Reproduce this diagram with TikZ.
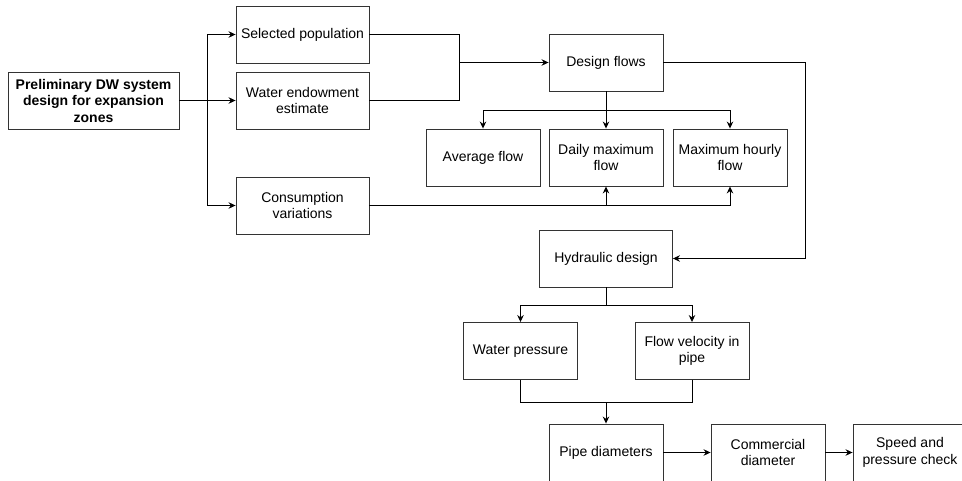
\documentclass[tikz,border=0pt]{standalone}
\usepackage{fontspec}
\setmainfont{Liberation Sans}
\usepackage{tikz}
\usetikzlibrary{arrows.meta}
\tikzstyle{stage}=[rectangle, draw=black!80, line width=0.9pt, minimum width=114pt, minimum height=57pt, inner sep=2pt, align=center, font=\fontsize{14}{16.5}\selectfont]
\tikzstyle{wide}=[minimum width=133pt]

\begin{document}
\begin{tikzpicture}[x=1pt, y=-1pt, line width=0.9pt, >={Stealth[length=7pt, width=6.5pt]}]
                    \useasboundingbox (0,0) rectangle (962,481);
                    \clip (0,0) rectangle (962,481);
                    \node[stage, minimum width=171pt, font=\fontsize{14}{16.5}\selectfont\bfseries] (prelim) at (93.5, 100.5) {Preliminary DW system\\design for expansion\\zones};
                    \node[stage, wide] (selpop) at (302.5, 34.5) {Selected population};
                    \node[stage, wide] (water) at (302.5, 100.5) {Water endowment\\estimate};
                    \node[stage, wide] (consum) at (302.5, 205.5) {Consumption\\variations};
                    \node[stage] (design) at (606, 62.5) {Design flows};
                    \node[stage] (avg) at (483, 157.5) {Average flow};
                    \node[stage] (daily) at (606, 157.5) {Daily maximum\\flow};
                    \node[stage] (hourly) at (730, 157.5) {Maximum hourly\\flow};
                    \node[stage, wide] (hydro) at (606, 258.5) {Hydraulic design};
                    \node[stage] (press) at (520.5, 351) {Water pressure};
                    \node[stage] (velo) at (692, 351) {Flow velocity in\\pipe};
                    \node[stage] (pipe) at (606, 452.5) {Pipe diameters};
                    \node[stage] (comm) at (768, 452.5) {Commercial\\diameter};
                    \node[stage] (check) at (910, 452.5) {Speed and\\pressure check};
                    \coordinate (split) at (207, 100.5);
                    \coordinate (join) at (459, 62.5);
                    \coordinate (fork) at (606, 110);
                    \coordinate (turn) at (805, 62.5);
                    \coordinate (fork2) at (606, 305);
                    \coordinate (join2) at (606, 402);
                    \draw[->] (prelim) -- (water);
                    \draw[->] (split) |- (selpop);
                    \draw[->] (split) |- (consum);
                    \draw (selpop) -| (join) (water) -| (join);
                    \draw[->] (join) -- (design);
                    \draw (design) -- (fork);
                    \draw[->] (fork) -| (avg);
                    \draw[->] (fork) -- (daily);
                    \draw[->] (fork) -| (hourly);
                    \draw[->] (consum) -| (hourly);
                    \draw[->] (consum.east -| daily.south) -- (daily);
                    \draw[->] (design) -- (turn) |- (hydro);
                    \draw (hydro) -- (fork2);
                    \draw[->] (fork2) -| (press);
                    \draw[->] (fork2) -| (velo);
                    \draw (press) |- (join2) (velo) |- (join2);
                    \draw[->] (join2) -- (pipe);
                    \draw[->] (pipe) -- (comm);
                    \draw[->] (comm) -- (check);
                \end{tikzpicture}
\end{document}
